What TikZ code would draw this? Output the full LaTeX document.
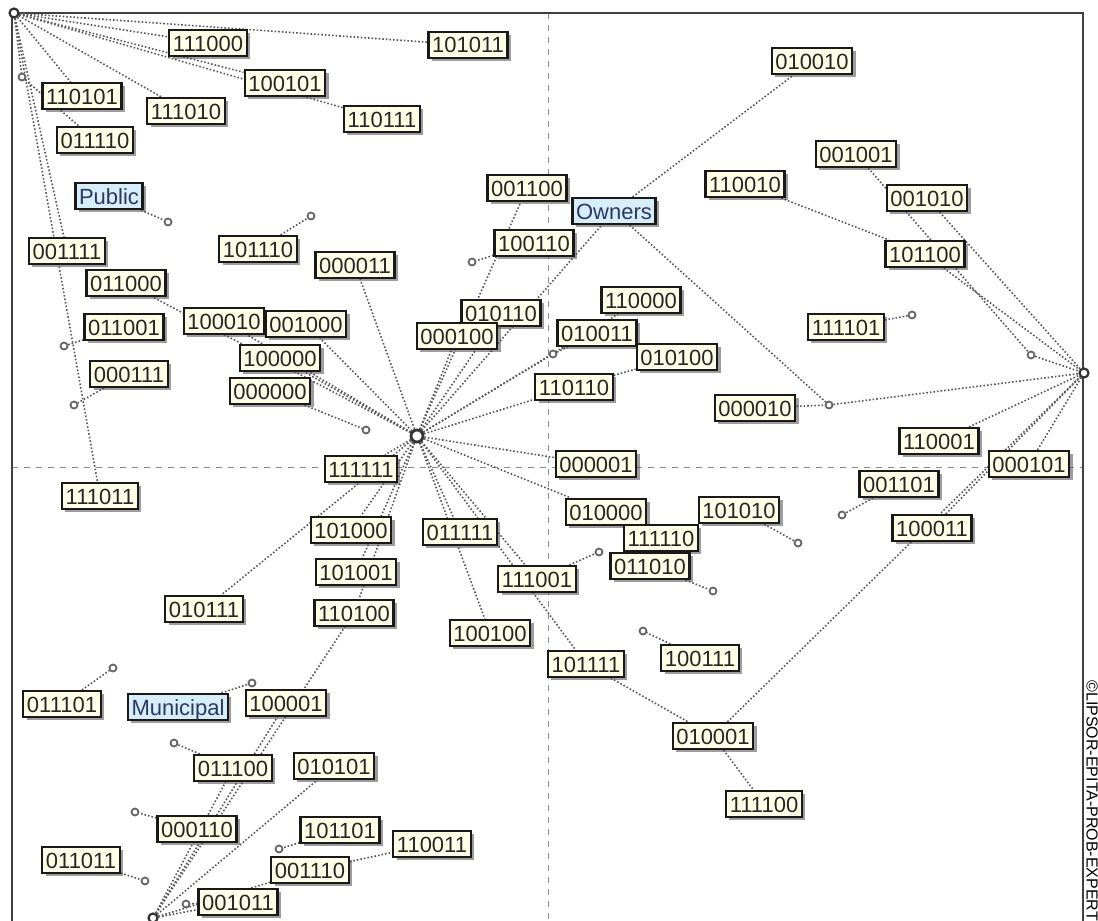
\documentclass[tikz,border=0pt]{standalone}
\usepackage{fontspec}
\setmainfont{Liberation Sans}
\usetikzlibrary{shadows}
\pgfdeclarelayer{bg}
\pgfsetlayers{bg,main}
\definecolor{cream}{RGB}{255,255,232}
\definecolor{skyfill}{RGB}{214,238,250}
\definecolor{inktext}{RGB}{45,55,95}

\begin{document}
\begin{tikzpicture}[x=0.5pt,y=-0.5pt,
	code/.style={draw=black!90,line width=1.1pt,fill=cream,inner xsep=1.8pt,inner ysep=2.5pt,text height=8pt,text depth=0pt,font=\fontsize{11}{12}\selectfont,text=black!85,drop shadow={shadow xshift=1.6pt,shadow yshift=-1.6pt,fill=black!70,opacity=0.55}},
	group/.style={code,fill=skyfill,text=inktext},
	pt/.style={circle,draw=black!60,line width=0.9pt,fill=white,inner sep=0pt,minimum size=3.5pt},
	hub/.style={pt,draw=black!80,line width=1.1pt,minimum size=4.5pt},
	link/.style={densely dotted,draw=black!65,line width=0.8pt},
	axis/.style={dashed,draw=black!45,line width=0.5pt}]
	\useasboundingbox (0,0) rectangle (1098,921);
	\node[hub] (corner) at (14,13) {};
	\node[hub,minimum size=6pt,line width=1.4pt] (centre) at (417,436) {};
	\node[hub] (right) at (1084,373) {};
	\node[hub] (bottom) at (153,918) {};
	\node[pt] (p1) at (22,77) {};
	\node[pt] (p2) at (168,222) {};
	\node[pt] (p3) at (311,216) {};
	\node[pt] (p4) at (472,262) {};
	\node[pt] (p5) at (64,346) {};
	\node[pt] (p6) at (74,405) {};
	\node[pt] (p7) at (366,430) {};
	\node[pt] (p8) at (553,354) {};
	\node[pt] (p9) at (912,315) {};
	\node[pt] (p10) at (1031,355) {};
	\node[pt] (p11) at (829,405) {};
	\node[pt] (p12) at (842,515) {};
	\node[pt] (p13) at (798,543) {};
	\node[pt] (p14) at (599,552) {};
	\node[pt] (p15) at (713,591) {};
	\node[pt] (p16) at (643,631) {};
	\node[pt] (p17) at (113,668) {};
	\node[pt] (p18) at (252,683) {};
	\node[pt] (p19) at (174,743) {};
	\node[pt] (p20) at (135,812) {};
	\node[pt] (p21) at (145,881) {};
	\node[pt] (p22) at (186,904) {};
	\node[pt] (p23) at (279,849) {};
	\node[group] (public) at (109,196) {Public};
	\node[group] (owners) at (614,211) {Owners};
	\node[group] (municipal) at (178,707) {Municipal};
	\node[code] (c111000) at (208,43) {111000};
	\node[code] (c101011) at (468,45) {101011};
	\node[code] (c100101) at (285,83) {100101};
	\node[code] (c110111) at (382,119) {110111};
	\node[code] (c110101) at (82,96) {110101};
	\node[code] (c111010) at (186,111) {111010};
	\node[code] (c011110) at (95,140) {011110};
	\node[code] (c001111) at (67,251) {001111};
	\node[code] (c011000) at (126,283) {011000};
	\node[code] (c101110) at (258,249) {101110};
	\node[code] (c000011) at (355,265) {000011};
	\node[code] (c001100) at (527,188) {001100};
	\node[code] (c100110) at (534,243) {100110};
	\node[code] (c010010) at (812,61) {010010};
	\node[code] (c110010) at (745,184) {110010};
	\node[code] (c001001) at (856,154) {001001};
	\node[code] (c001010) at (927,198) {001010};
	\node[code] (c101100) at (925,254) {101100};
	\node[code] (c111101) at (846,327) {111101};
	\node[code] (c110000) at (641,300) {110000};
	\node[code] (c010110) at (501,313) {010110};
	\node[code] (c000100) at (457,336) {000100};
	\node[code] (c010011) at (597,333) {010011};
	\node[code] (c010100) at (677,357) {010100};
	\node[code] (c110110) at (574,387) {110110};
	\node[code] (c000010) at (755,408) {000010};
	\node[code] (c100010) at (224,321) {100010};
	\node[code] (c001000) at (306,324) {001000};
	\node[code] (c011001) at (124,327) {011001};
	\node[code] (c100000) at (280,358) {100000};
	\node[code] (c000000) at (270,391) {000000};
	\node[code] (c000111) at (129,374) {000111};
	\node[code] (c111111) at (361,469) {111111};
	\node[code] (c000001) at (596,464) {000001};
	\node[code] (c110001) at (939,441) {110001};
	\node[code] (c000101) at (1029,464) {000101};
	\node[code] (c001101) at (899,484) {001101};
	\node[code] (c100011) at (932,528) {100011};
	\node[code] (c111011) at (100,496) {111011};
	\node[code] (c010000) at (606,512) {010000};
	\node[code] (c101010) at (739,510) {101010};
	\node[code] (c111110) at (661,538) {111110};
	\node[code] (c011010) at (650,566) {011010};
	\node[code] (c101000) at (351,530) {101000};
	\node[code] (c011111) at (460,532) {011111};
	\node[code] (c101001) at (356,572) {101001};
	\node[code] (c111001) at (537,579) {111001};
	\node[code] (c110100) at (354,613) {110100};
	\node[code] (c010111) at (204,609) {010111};
	\node[code] (c100100) at (490,633) {100100};
	\node[code] (c101111) at (586,664) {101111};
	\node[code] (c100111) at (700,658) {100111};
	\node[code] (c011101) at (62,704) {011101};
	\node[code] (c100001) at (286,703) {100001};
	\node[code] (c011100) at (233,768) {011100};
	\node[code] (c010101) at (334,766) {010101};
	\node[code] (c000110) at (197,829) {000110};
	\node[code] (c011011) at (81,860) {011011};
	\node[code] (c101101) at (340,830) {101101};
	\node[code] (c110011) at (432,844) {110011};
	\node[code] (c001110) at (310,870) {001110};
	\node[code] (c001011) at (238,902) {001011};
	\node[code] (c010001) at (713,736) {010001};
	\node[code] (c111100) at (764,804) {111100};
	\node[rotate=-90,anchor=west,inner sep=0pt,font=\fontsize{8}{9}\selectfont] (mark) at (1092,680) {\textcopyright LIPSOR-EPITA-PROB-EXPERT};
	\begin{pgfonlayer}{bg}
	\draw[axis] (548,13) -- (548,921);
	\draw[axis] (12,467) -- (1083,467);
	\draw[black!75,line width=1pt] (12,930) -- (12,13) -- (1083,13) -- (1083,930);
	\draw[link] (corner) -- (c111000);
	\draw[link] (corner) -- (c101011);
	\draw[link] (corner) -- (c100101);
	\draw[link] (corner) -- (c110111);
	\draw[link] (corner) -- (c110101);
	\draw[link] (corner) -- (c111010);
	\draw[link] (corner) -- (p1);
	\draw[link] (p1) -- (c011110);
	\draw[link] (corner) -- (c001111);
	\draw[link] (corner) -- (c111011);
	\draw[link] (public) -- (p2);
	\draw[link] (c101110) -- (p3);
	\draw[link] (c100110) -- (p4);
	\draw[link] (c011001) -- (p5);
	\draw[link] (c000111) -- (p6);
	\draw[link] (c000000) -- (p7);
	\draw[link] (centre) -- (c000011);
	\draw[link] (centre) -- (c011000);
	\draw[link] (centre) -- (c100010);
	\draw[link] (centre) -- (c001000);
	\draw[link] (centre) -- (c100000);
	\draw[link] (centre) -- (c001100);
	\draw[link] (centre) -- (c010110);
	\draw[link] (centre) -- (c000100);
	\draw[link] (centre) -- (owners);
	\draw[link] (owners) -- (c010010);
	\draw[link] (owners) -- (p11);
	\draw[link] (c000010) -- (p11);
	\draw[link] (p11) -- (right);
	\draw[link] (centre) -- (c110000);
	\draw[link] (centre) -- (p8);
	\draw[link] (p8) -- (c010011);
	\draw[link] (centre) -- (c110110);
	\draw[link] (c110110) -- (c010100);
	\draw[link] (centre) -- (c000001);
	\draw[link] (centre) -- (c010000);
	\draw[link] (centre) -- (c111111);
	\draw[link] (centre) -- (c101000);
	\draw[link] (centre) -- (c010111);
	\draw[link] (centre) -- (c101001);
	\draw[link] (centre) -- (c110100);
	\draw[link] (centre) -- (c011111);
	\draw[link] (centre) -- (c111001);
	\draw[link] (centre) -- (c100100);
	\draw[link] (centre) -- (c101111);
	\draw[link] (c101111) -- (c010001);
	\draw[link] (c010001) -- (c111100);
	\draw[link] (c010001) -- (right);
	\draw[link] (c111101) -- (p9);
	\draw[link] (c001001) -- (p10);
	\draw[link] (p10) -- (right);
	\draw[link] (c001010) -- (right);
	\draw[link] (c110010) -- (c101100);
	\draw[link] (c101100) -- (right);
	\draw[link] (c110001) -- (right);
	\draw[link] (c000101) -- (right);
	\draw[link] (c100011) -- (right);
	\draw[link] (c001101) -- (p12);
	\draw[link] (c101010) -- (p13);
	\draw[link] (c111001) -- (p14);
	\draw[link] (c011010) -- (p15);
	\draw[link] (c100111) -- (p16);
	\draw[link] (c011101) -- (p17);
	\draw[link] (municipal) -- (p18);
	\draw[link] (c011100) -- (p19);
	\draw[link] (c000110) -- (p20);
	\draw[link] (c011011) -- (p21);
	\draw[link] (c001011) -- (p22);
	\draw[link] (c101101) -- (p23);
	\draw[link] (c001110) -- (c110011);
	\draw[link] (bottom) -- (c110100);
	\draw[link] (bottom) -- (c100001);
	\draw[link] (bottom) -- (c010101);
	\draw[link] (bottom) -- (c011100);
	\draw[link] (bottom) -- (c001110);
	\draw[link] (bottom) -- (c001011);
	\end{pgfonlayer}
\end{tikzpicture}
\end{document}
